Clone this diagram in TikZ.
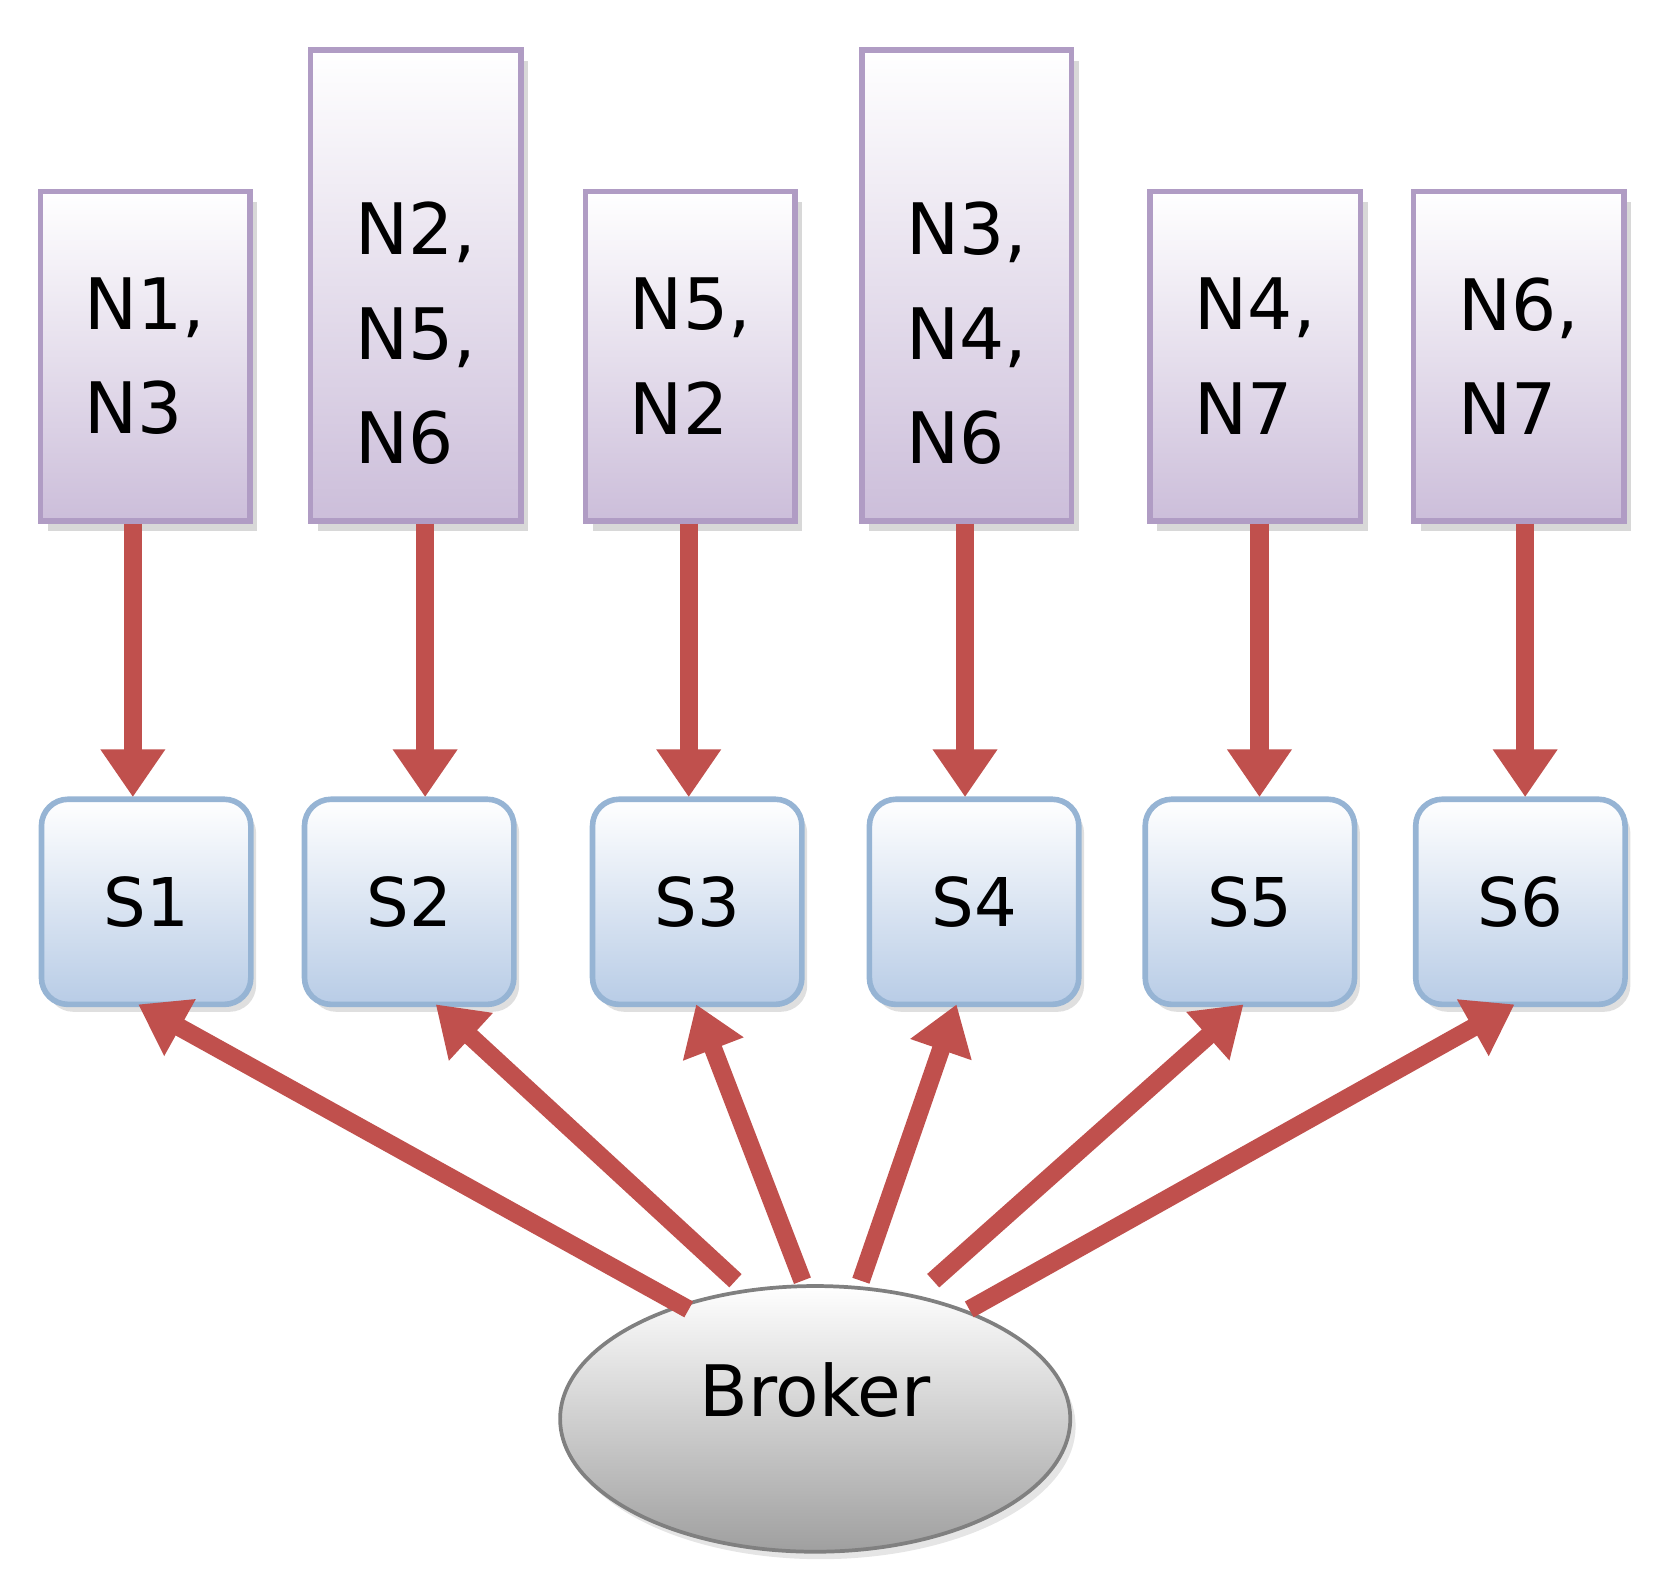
\documentclass[tikz,border=0pt]{standalone}
\usepackage{fontspec}
\setmainfont{DejaVu Sans}
\usetikzlibrary{shadows,arrows.meta,shapes.geometric}

\definecolor{lilac}{RGB}{204,190,218}
\definecolor{lilacedge}{RGB}{176,156,196}
\definecolor{paleblue}{RGB}{184,204,230}
\definecolor{blueedge}{RGB}{150,180,212}
\definecolor{arrowred}{RGB}{192,80,77}

\tikzset{
  list/.style={draw=lilacedge, line width=1.5pt, top color=white, bottom color=lilac,
    drop shadow={shadow xshift=.07cm, shadow yshift=-.1cm, fill=gray!60},
    font=\fontsize{19}{28}\selectfont, align=left, inner sep=0pt},
  sbox/.style={draw=blueedge, line width=1.5pt, rounded corners=.25cm, top color=white,
    bottom color=paleblue, minimum width=1.97cm, minimum height=1.93cm,
    drop shadow={shadow xshift=.05cm, shadow yshift=-.07cm, fill=gray!50},
    font=\fontsize{18}{22}\selectfont},
  link/.style={arrowred, line width=.17cm, -{Triangle[width=.58cm,length=.45cm]}}
}

\begin{document}
\begin{tikzpicture}
\useasboundingbox (0,0) rectangle (15.6,-14.98);

% lists
\node[list, minimum width=1.97cm, minimum height=3.1cm] (n1) at (1.365,-3.35) {N1,\\N3};
\node[list, minimum width=1.98cm, minimum height=4.43cm] (n2) at (3.91,-2.685) {\rule{0pt}{1.4cm}N2,\\N5,\\N6};
\node[list, minimum width=1.97cm, minimum height=3.1cm] (n3) at (6.495,-3.35) {N5,\\N2};
\node[list, minimum width=1.97cm, minimum height=4.43cm] (n4) at (9.095,-2.685) {\rule{0pt}{1.4cm}N3,\\N4,\\N6};
\node[list, minimum width=1.98cm, minimum height=3.1cm] (n5) at (11.81,-3.35) {N4,\\N7};
\node[list, minimum width=1.98cm, minimum height=3.1cm] (n6) at (14.29,-3.35) {N6,\\N7};

% servers
\foreach \i/\x in {1/1.375, 2/3.85, 3/6.56, 4/9.165, 5/11.76, 6/14.305}
  \node[sbox] (s\i) at (\x,-8.485) {S\i\hspace{.35cm}};

% broker
\node[draw=gray, line width=1pt, ellipse, minimum width=4.8cm, minimum height=2.5cm,
  top color=white, bottom color=gray!75, font=\fontsize{19}{22}\selectfont,
  drop shadow={shadow xshift=.05cm, shadow yshift=-.07cm, fill=gray!40}]
  (broker) at (7.67,-13.35) {\raisebox{1.5ex}{Broker}};

% lists to servers
\foreach \i/\x in {1/1.25, 2/4.0, 3/6.48, 4/9.08, 5/11.85, 6/14.35}
  \draw[link] (n\i.south -| \x,0) -- (\x,-7.5);

% broker to servers
\draw[link] (6.48,-12.32) -- (1.3,-9.45);
\draw[link] (6.92,-12.05) -- (4.1,-9.45);
\draw[link] (7.55,-12.05) -- (6.55,-9.45);
\draw[link] (8.1,-12.05) -- (9.0,-9.45);
\draw[link] (8.78,-12.05) -- (11.7,-9.45);
\draw[link] (9.12,-12.32) -- (14.25,-9.45);

\end{tikzpicture}
\end{document}
